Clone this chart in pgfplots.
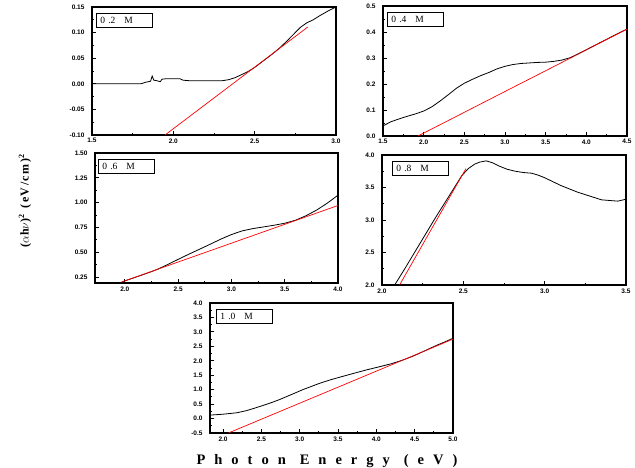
\documentclass[border=0pt]{standalone}
\usepackage{pgfplots}
\pgfplotsset{compat=1.18}
\usepackage{fontspec}
\setmainfont{Liberation Serif}
\newfontfamily\tickfont{Liberation Sans}
\newfontfamily\xlabfont{Liberation Serif}[LetterSpace=62]
\newfontfamily\ylabfont{Liberation Serif}[LetterSpace=12]
\pgfplotsset{
 panel/.style={
  scale only axis, width=244pt, height=130pt,
  axis line style={line width=1.4pt},
  tick align=inside, tick pos=left,
  major tick length=4pt, minor tick length=2pt,
  minor tick num=1,
  every tick/.style={black, line width=0.8pt},
  tick label style={font=\tickfont\bfseries\fontsize{6.5}{6.5}\selectfont},
  /pgf/number format/assume math mode=true,
  xticklabel style={/pgf/number format/.cd,fixed,fixed zerofill,precision=1},
  yticklabel style={xshift=-4pt},
 },
 blk/.style={black, line width=0.8pt, no marks},
 rd/.style={red, line width=0.7pt, no marks},
}
\newcommand{\panellabel}[2]{\node[draw, line width=0.8pt, anchor=north west, minimum width=56pt, minimum height=14pt, inner ysep=0pt, inner xsep=4pt, text width=48pt, align=left, font=\fontsize{9.5}{9.5}\selectfont] at ([xshift=#1pt,yshift=-6pt]rel axis cs:0,1) {#2};}
\begin{document}
\begin{tikzpicture}
\path[use as bounding box] (0,0) rectangle (635pt,468pt);
% Panel 1: 0.2 M
\begin{axis}[panel, at={(92pt,333pt)}, anchor=south west, width=244pt, height=128pt,
  xmin=1.5, xmax=3.0, ymin=-0.10, ymax=0.15,
  xtick={1.5,2.0,2.5,3.0}, ytick={-0.10,-0.05,0,0.05,0.10,0.15},
  yticklabel style={/pgf/number format/.cd,fixed,fixed zerofill,precision=2}]
\addplot[blk] coordinates {(1.50,0.000)(1.60,0.000)(1.70,0.000)(1.80,0.000)(1.83,0.003)(1.86,0.005)(1.87,0.015)(1.88,0.007)(1.90,0.006)(1.92,0.004)(1.93,0.009)(1.96,0.010)(2.00,0.010)(2.04,0.010)(2.06,0.007)(2.10,0.006)(2.20,0.006)(2.30,0.006)(2.34,0.008)(2.38,0.012)(2.42,0.018)(2.46,0.024)(2.50,0.032)(2.55,0.044)(2.60,0.056)(2.65,0.069)(2.70,0.084)(2.74,0.097)(2.78,0.110)(2.82,0.119)(2.86,0.125)(2.90,0.133)(2.95,0.142)(3.00,0.150)};
\addplot[rd] coordinates {(1.949,-0.10)(2.827,0.111)};
\panellabel{4}{0 .2\hspace{9pt}M}
\end{axis}
% Panel 2: 0.4 M
\begin{axis}[panel, at={(383pt,332pt)}, anchor=south west,
  xmin=1.5, xmax=4.5, ymin=0, ymax=0.5,
  xtick={1.5,2.0,...,4.5}, ytick={0,0.1,...,0.5},
  yticklabel style={/pgf/number format/.cd,fixed,fixed zerofill,precision=1}]
\addplot[blk] coordinates {(1.5,0.039)(1.6,0.055)(1.7,0.066)(1.8,0.076)(1.9,0.085)(2.0,0.096)(2.1,0.112)(2.2,0.134)(2.3,0.158)(2.4,0.183)(2.5,0.203)(2.6,0.218)(2.7,0.232)(2.8,0.244)(2.9,0.258)(3.0,0.268)(3.1,0.275)(3.2,0.279)(3.3,0.281)(3.4,0.283)(3.5,0.284)(3.6,0.287)(3.7,0.292)(3.8,0.301)(3.9,0.316)(4.0,0.332)(4.1,0.348)(4.2,0.364)(4.3,0.380)(4.4,0.396)(4.5,0.411)};
\addplot[rd] coordinates {(1.93,0.0)(4.5,0.411)};
\panellabel{4}{0 .4\hspace{9pt}M}
\end{axis}
% Panel 3: 0.6 M
\begin{axis}[panel, at={(95pt,185pt)}, anchor=south west, width=243pt,
  xmin=1.72, xmax=4.0, ymin=0.19, ymax=1.5,
  xtick={2.0,2.5,...,4.0}, ytick={0.25,0.5,...,1.5},
  yticklabel style={/pgf/number format/.cd,fixed,fixed zerofill,precision=2}]
\addplot[blk] coordinates {(1.97,0.20)(2.1,0.248)(2.2,0.285)(2.3,0.325)(2.4,0.375)(2.5,0.428)(2.6,0.480)(2.7,0.530)(2.8,0.580)(2.9,0.632)(3.0,0.678)(3.1,0.715)(3.2,0.738)(3.3,0.755)(3.4,0.772)(3.5,0.792)(3.6,0.822)(3.7,0.868)(3.8,0.925)(3.9,0.995)(4.0,1.075)};
\addplot[rd] coordinates {(1.97,0.20)(4.0,0.971)};
\panellabel{3}{0 .6\hspace{9pt}M}
\end{axis}
% Panel 4: 0.8 M
\begin{axis}[panel, at={(382pt,183pt)}, anchor=south west,
  xmin=2.0, xmax=3.5, ymin=2.0, ymax=4.0,
  xtick={2.0,2.5,3.0,3.5}, ytick={2.0,2.5,...,4.0},
  yticklabel style={/pgf/number format/.cd,fixed,fixed zerofill,precision=1}]
\addplot[blk] coordinates {(2.078,2.0)(2.14,2.25)(2.20,2.50)(2.26,2.75)(2.32,3.00)(2.38,3.24)(2.445,3.50)(2.49,3.68)(2.53,3.79)(2.57,3.86)(2.6,3.89)(2.64,3.91)(2.68,3.88)(2.72,3.83)(2.77,3.78)(2.82,3.75)(2.87,3.73)(2.92,3.72)(2.96,3.69)(3.0,3.65)(3.05,3.59)(3.1,3.53)(3.15,3.48)(3.2,3.43)(3.25,3.39)(3.3,3.35)(3.35,3.31)(3.4,3.30)(3.45,3.29)(3.5,3.32)};
\addplot[rd] coordinates {(2.108,2.0)(2.516,3.79)};
\panellabel{10}{0 .8\hspace{9pt}M}
\end{axis}
% Panel 5: 1.0 M
\begin{axis}[panel, at={(210pt,35pt)}, anchor=south west, width=243pt,
  xmin=1.83, xmax=5.0, ymin=-0.5, ymax=4.0,
  xtick={2.0,2.5,...,5.0}, ytick={-0.5,0,...,4.0},
  yticklabel style={/pgf/number format/.cd,fixed,fixed zerofill,precision=1}]
\addplot[blk] coordinates {(1.83,0.12)(2.0,0.15)(2.18,0.20)(2.3,0.27)(2.4,0.35)(2.53,0.46)(2.64,0.56)(2.74,0.66)(2.9,0.84)(3.05,1.01)(3.15,1.11)(3.26,1.22)(3.4,1.34)(3.52,1.43)(3.63,1.51)(3.74,1.59)(3.88,1.69)(4.02,1.78)(4.2,1.90)(4.35,2.03)(4.45,2.13)(4.53,2.22)(4.66,2.38)(4.79,2.54)(4.9,2.66)(5.0,2.78)};
\addplot[rd] coordinates {(2.07,-0.5)(5.0,2.75)};
\panellabel{6}{1 .0\hspace{9pt}M}
\end{axis}
% axis titles
\node[rotate=90, font=\ylabfont\bfseries\fontsize{12}{12}\selectfont] at (25pt,267pt) {($\alpha$h$\nu$)\textsuperscript{2}\hspace{6pt}(eV/cm)\textsuperscript{2}};
\node[font=\xlabfont\bfseries\fontsize{14.5}{14.5}\selectfont] at (327pt,7pt) {Photon\hspace{14pt}Energy\hspace{14pt}(eV)};
\end{tikzpicture}
\end{document}
